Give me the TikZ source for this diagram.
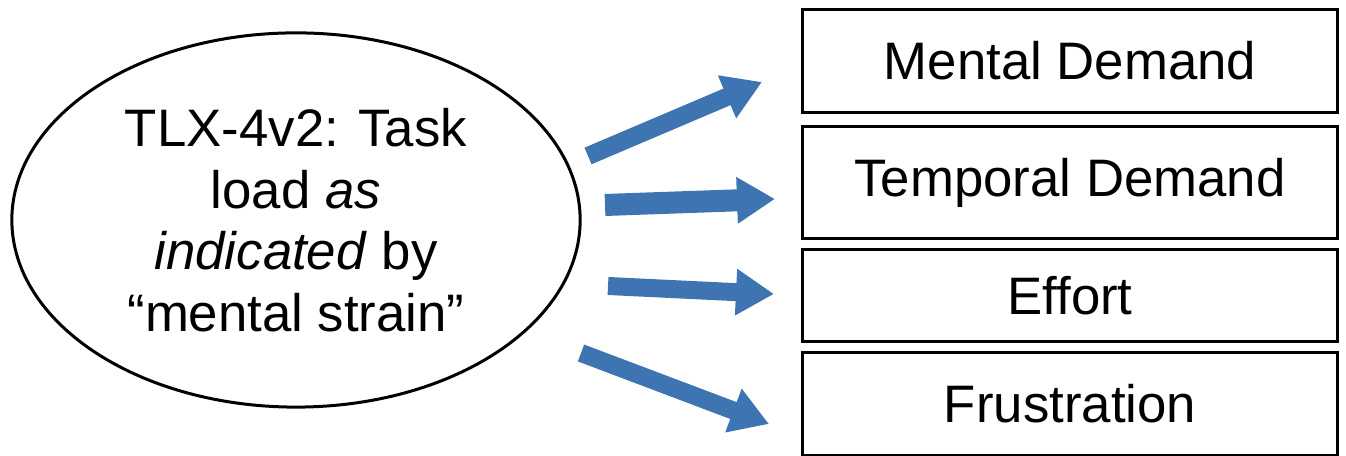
\documentclass[tikz,border=0pt]{standalone}
\usepackage{fontspec}
\setmainfont{Liberation Sans}
\usetikzlibrary{shapes.geometric,arrows.meta}
\definecolor{arrowblue}{RGB}{62,116,178}

\begin{document}
\begin{tikzpicture}[x=0.01cm, y=-0.01cm]
        % Define styles
        \tikzstyle{measure}=[rectangle, draw, line width=0.03cm, minimum width=5.34cm, inner sep=0pt, font=\fontsize{15}{17.5}\selectfont]
        \tikzstyle{concept}=[ellipse, draw, line width=0.03cm, minimum width=5.68cm, minimum height=3.74cm, inner sep=0pt, align=center, font=\fontsize{15}{17.5}\selectfont]
        \tikzstyle{blockarrow}=[-{Triangle[length=0.38cm, width=0.44cm]}, draw=arrowblue, fill=arrowblue, line width=0.18cm, line cap=butt]

        \useasboundingbox (0,0) rectangle (1346,456);

        % TLX-4v2 (left)
        \node[concept] (tlx) at (296,220) {
            TLX-4v2: Task\\
            load \textit{as}\\
            \textit{indicated} by\\
            “mental strain”
        };

        % Subscales (right)
        \node[measure, minimum height=1.02cm] (mental) at (1070,61) {Mental Demand};
        \node[measure, minimum height=1.11cm] (temporal) at (1070,182.5) {Temporal Demand};
        \node[measure, minimum height=0.91cm] (effort) at (1070,295.5) {Effort};
        \node[measure, minimum height=1.02cm] (frustration) at (1070,404) {Frustration};

        % Arrow ends
        \coordinate (mentalS) at (588,156);
        \coordinate (mentalE) at (762,82);
        \coordinate (temporalS) at (605,205);
        \coordinate (temporalE) at (775,199);
        \coordinate (effortS) at (608,286);
        \coordinate (effortE) at (774,294);
        \coordinate (frustrationS) at (581,353);
        \coordinate (frustrationE) at (769,424);

        % Arrows
        \draw[blockarrow] (mentalS) -- (mentalE);
        \draw[blockarrow, line width=0.22cm] (temporalS) -- (temporalE);
        \draw[blockarrow] (effortS) -- (effortE);
        \draw[blockarrow] (frustrationS) -- (frustrationE);

    \end{tikzpicture}
\end{document}
